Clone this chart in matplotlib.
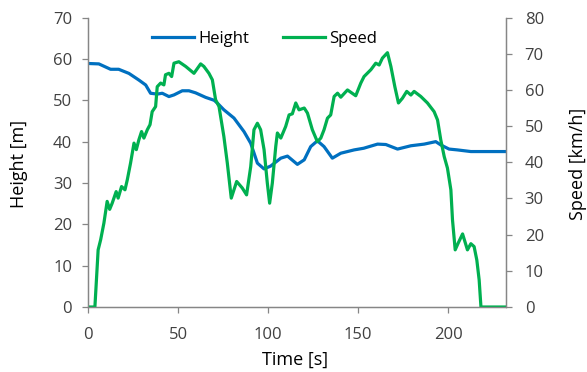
import matplotlib.pyplot as plt

plt.rcParams['font.family'] = ['Open Sans', 'DejaVu Sans']

# Height profile over the run
height_t = [0, 6, 12.5, 17, 22.7, 28.2, 32, 34.7, 38.4, 41.2, 44.9, 47.7, 52.3, 56,
            59.7, 65.3, 70, 71.8, 75.4, 81, 86.6, 90.3, 94, 97.7, 101.4, 107, 110.7,
            116.2, 120, 123.6, 127.3, 131, 135.6, 140.3, 147.7, 153, 160.7, 165.3,
            171.8, 179.2, 186.6, 193, 195.8, 200.4, 205, 212.5, 232]
height_m = [58.9, 58.8, 57.5, 57.5, 56.5, 54.9, 53.7, 51.7, 51.5, 51.7, 50.9, 51.3, 52.3, 52.3,
            51.8, 50.7, 50.0, 49.3, 47.7, 45.7, 42.4, 39.6, 34.8, 33.4, 34.1, 36.0, 36.5,
            34.5, 35.6, 38.8, 40.2, 38.8, 36.0, 37.2, 38.0, 38.4, 39.4, 39.3,
            38.2, 39.0, 39.4, 40.0, 39.2, 38.2, 38.0, 37.6, 37.6]

# Speed profile over the run
speed_t = [0, 3.8, 5.6, 7, 8.8, 10.6, 12, 13.4, 15.6, 16.7, 18.6, 20.5, 21.8, 23.6, 25.5,
           26.8, 28.2, 29.7, 31, 32.9, 34.4, 35.6, 37.5, 38.4, 40.3, 42.1, 43, 44.9, 46.4,
           47.7, 50.4, 54.2, 58.8, 62.5, 64.3, 67.1, 69, 70.8, 72.7, 75.4, 77.3, 79.5,
           82.5, 85.6, 88, 90.3, 92.1, 94, 95.8, 97.7, 99.5, 100.8, 102.3, 104.2, 105.1,
           107, 109.7, 111.6, 113.4, 115.3, 117.1, 120, 121.8, 124.5, 127.3, 129.2, 131,
           132.9, 134.7, 136.6, 138.5, 140.3, 144, 148.6, 151.4, 153.2, 157, 159.7, 161.6,
           163.4, 166.2, 168.1, 170.3, 172.3, 174.5, 176.9, 179.2, 181, 184.7, 188.4,
           192.1, 194, 195.8, 197.7, 199.5, 201.4, 202.3, 203.8, 205.5, 207.9, 210.6,
           212.5, 214.3, 215.8, 217.1, 218.1, 232]
speed_kmh = [0, 0, 15.8, 18.6, 23.2, 29.2, 27.0, 28.7, 31.9, 30.1, 33.3, 32.4, 35.2, 39.8, 45.3,
             43.5, 46.2, 48.5, 46.7, 49.0, 50.4, 54.0, 55.4, 60.9, 61.9, 61.4, 64.2, 64.6, 63.7,
             67.4, 67.8, 66.5, 64.6, 67.2, 66.5, 64.6, 62.8, 57.3, 55.4, 47.1, 39.8, 30.1,
             34.7, 32.9, 31.0, 38.8, 49.0, 50.8, 49.0, 43.5, 34.3, 28.7, 34.3, 44.4, 48.1,
             46.7, 49.9, 53.1, 53.4, 56.4, 54.5, 55.0, 53.6, 49.0, 45.7, 46.7, 49.0,
             52.2, 53.1, 58.2, 59.1, 58.0, 60.0, 58.4, 61.9, 63.7, 65.6, 67.4, 66.9,
             68.8, 70.3, 66.5, 60.9, 56.4, 57.7, 59.6, 58.6, 59.6, 58.2, 56.4,
             54.0, 51.7, 46.2, 41.6, 38.4, 32.4, 24.1, 15.8, 17.7, 20.2, 15.8,
             17.5, 16.7, 13.0, 7.5, 0, 0]

blue = '#0070C0'
green = '#00B050'
grey = '#868686'
text_col = '#404040'

fig = plt.figure(figsize=(5.87, 3.72), dpi=100)
ax = fig.add_axes([0.15, 0.1747, 0.712, 0.778])
ax2 = ax.twinx()

h_line, = ax.plot(height_t, height_m, color=blue, lw=2.3, label='Height')
s_line, = ax2.plot(speed_t, speed_kmh, color=green, lw=2.3, label='Speed')

ax.set_xlim(0, 232)
ax.set_ylim(0, 70)
ax2.set_ylim(0, 80)
ax.set_xticks(range(0, 201, 50))
ax.set_yticks(range(0, 71, 10))
ax2.set_yticks(range(0, 81, 10))

for a in (ax, ax2):
    a.spines['top'].set_visible(False)
    for s in ('left', 'right', 'bottom'):
        a.spines[s].set_color(grey)
        a.spines[s].set_linewidth(0.9)
    a.tick_params(colors=grey, labelcolor=text_col, labelsize=12, length=4.5,
                  width=0.9, pad=7)
ax.tick_params(axis='x', pad=10)
ax2.tick_params(axis='y', pad=9)

# axis titles placed in figure coordinates
fig.text(0.503, 0.032, 'Time [s]', fontsize=13, ha='center', va='center')
fig.text(0.032, 0.56, 'Height [m]', fontsize=13, rotation=90, ha='center', va='center')
fig.text(0.984, 0.56, 'Speed [km/h]', fontsize=13, rotation=90, ha='center', va='center')

ax2.legend(handles=[h_line, s_line], loc='upper left', bbox_to_anchor=(0.153, 0.955),
           ncol=2, frameon=False, fontsize=12, handlelength=2.5, columnspacing=2.0,
           handletextpad=0.3, borderpad=0, borderaxespad=0)

fig.savefig('out.png', dpi=100)
